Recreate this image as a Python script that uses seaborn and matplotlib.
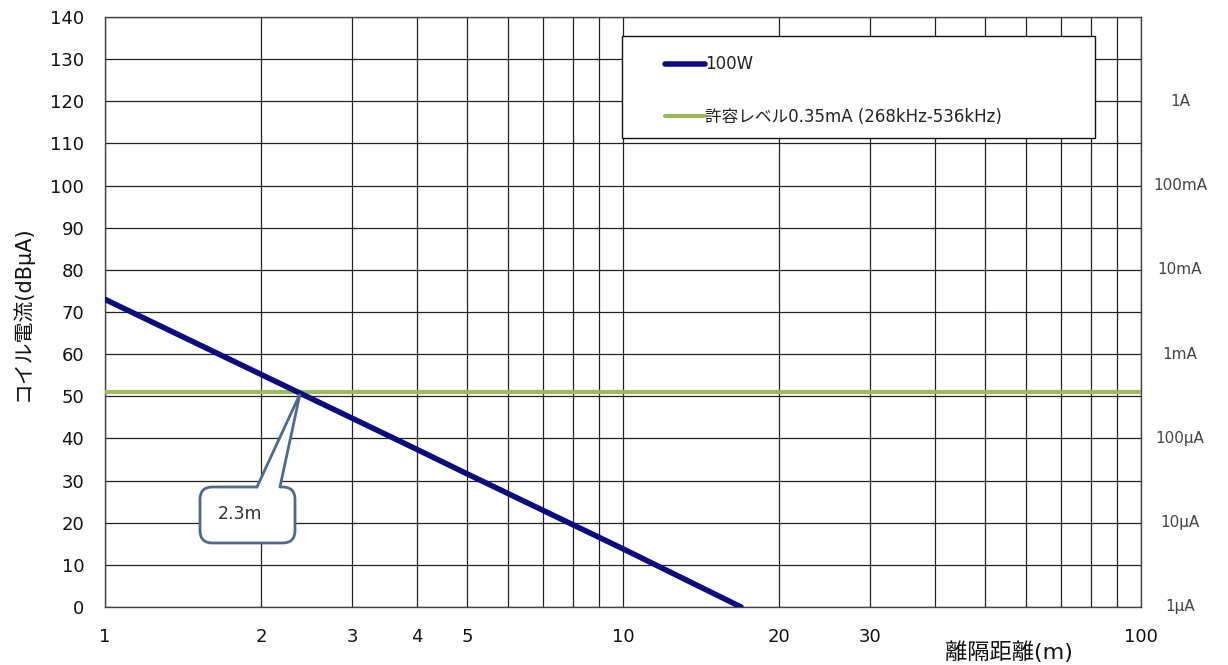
import matplotlib
matplotlib.use("Agg")
import matplotlib.pyplot as plt
import seaborn as sns
import pandas as pd
from matplotlib.patches import FancyBboxPatch, Polygon, Rectangle
from matplotlib.lines import Line2D
from matplotlib.ticker import FixedLocator, NullFormatter, LogLocator
import matplotlib.transforms as mtransforms

# ---- data ----
distance_m = [1, 2, 3, 4, 5, 10, 16.9]
current_100w = [73.0, 55.2, 44.8, 37.4, 31.6, 13.8, 0.0]
limit_x = [1, 100]
limit_y = [50.9, 50.9]
y_ticks = [0, 10, 20, 30, 40, 50, 60, 70, 80, 90, 100, 110, 120, 130, 140]
x_tick_vals = [1, 2, 3, 4, 5, 10, 20, 30, 100]
x_tick_labels = ["1", "2", "3", "4", "5", "10", "20", "30", "100"]
right_vals = [120, 100, 80, 60, 40, 20, 0]
right_labels = ["1A", "100mA", "10mA", "1mA", "100\u03bcA", "10\u03bcA", "1\u03bcA"]
series_names = ["100W", "許容レベル0.35mA (268kHz-536kHz)"]
callout_text = "2.3m"

sns.set_style("white")
plt.rcParams["font.family"] = ["DejaVu Sans", "Noto Sans CJK JP"]

fig = plt.figure(figsize=(12.28, 6.65), dpi=100)
ax = fig.add_axes([105/1228, 58/665, 1036/1228, 590/665])

df1 = pd.DataFrame({"x": distance_m, "y": current_100w})
df2 = pd.DataFrame({"x": limit_x, "y": limit_y})
sns.lineplot(data=df1, x="x", y="y", ax=ax, color="#0c0c80", lw=4, zorder=4)
sns.lineplot(data=df2, x="x", y="y", ax=ax, color="#9bbb59", lw=3, zorder=3)

ax.set_xscale("log")
ax.set_xlim(1, 100)
ax.set_ylim(0, 140)
ax.xaxis.set_major_locator(FixedLocator(x_tick_vals))
ax.set_xticklabels(x_tick_labels)
ax.xaxis.set_minor_locator(LogLocator(base=10, subs=range(1, 10)))
ax.xaxis.set_minor_formatter(NullFormatter())
ax.set_yticks(y_ticks)
ax.tick_params(axis="both", which="both", length=0, labelsize=13, colors="#111111")
ax.tick_params(axis="x", pad=15)
ax.tick_params(axis="y", pad=15)
ax.grid(True, which="both", axis="x", color="#222222", lw=0.9)
ax.grid(True, which="major", axis="y", color="#222222", lw=0.9)
for s in ax.spines.values():
    s.set_color("#444444")
    s.set_linewidth(1.0)
ax.set_xlabel("")
ax.set_ylabel("")

# right side labels
trans = mtransforms.blended_transform_factory(ax.transAxes, ax.transData)
for v, lab in zip(right_vals, right_labels):
    ax.text(1.0377, v, lab, transform=trans, ha="center", va="center",
            fontsize=11, color="#444444", clip_on=False)

# axis titles
fig.text(1009/1228, 1 - 652/665, "離隔距離(m)", ha="center", va="center", fontsize=16, color="#111111")
fig.text(22/1228, 1 - 313/665, "コイル電流(dB\u03bcA)", ha="center", va="center",
         rotation=90, fontsize=15, color="#111111")

# legend box
ax.add_patch(Rectangle((0.499, 0.795), 0.457, 0.173, transform=ax.transAxes,
                       facecolor="white", edgecolor="#111111", lw=1.0, zorder=5))
handles = [Line2D([], [], color="#0c0c80", lw=4), Line2D([], [], color="#9bbb59", lw=3)]
leg = ax.legend(handles, series_names, loc="upper left",
                bbox_to_anchor=((652-105)/1036, (607-42)/590),
                frameon=False, fontsize=12, handlelength=2.4, handletextpad=0.0,
                labelspacing=2.05, borderpad=0.3)
leg.set_zorder(6)
for t in leg.get_texts():
    t.set_color("#222222")

# callout
edge = "#4d6a8c"
bx0, bx1, by0, by1 = 0.0917, 0.1834, 0.1085, 0.2034
box = FancyBboxPatch((bx0, by0), bx1 - bx0, by1 - by0,
                     boxstyle="round,pad=0,rounding_size=0.012", transform=ax.transAxes,
                     facecolor="white", edgecolor=edge, lw=2, zorder=7,
                     mutation_aspect=1036/590)
ax.add_patch(box)
pb0, pb1, tipx, tipy = 0.1467, 0.1689, 0.1882, 0.361
ax.add_patch(Polygon([(pb0, by1 - 0.004), (tipx, tipy), (pb1, by1 - 0.004)], closed=True,
                     transform=ax.transAxes, facecolor="white", edgecolor="none", zorder=8))
ax.add_line(Line2D([pb0, tipx, pb1], [by1, tipy, by1], transform=ax.transAxes,
                   color=edge, lw=2, zorder=9, solid_joinstyle="miter"))
ax.text((240-105)/1036, (607-514)/590, callout_text, transform=ax.transAxes,
        ha="center", va="center", fontsize=12.5, color="#333333", zorder=10)

fig.savefig("out.png", dpi=100)
